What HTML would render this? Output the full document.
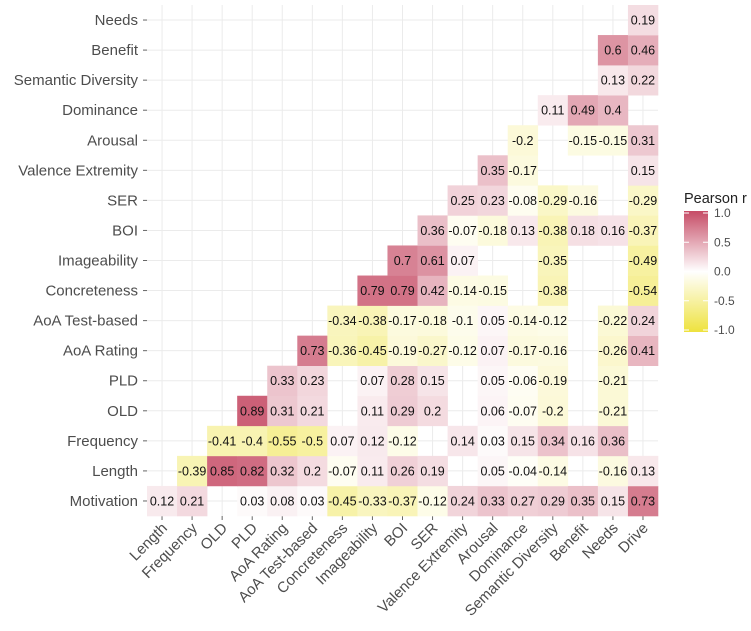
<!DOCTYPE html>
<html><head><meta charset="utf-8"><style>
html,body{margin:0;padding:0;background:#fff;}
svg{display:block;font-family:"Liberation Sans",sans-serif;}
</style></head><body>
<svg id="c" width="751" height="631"></svg>
<script>
const cols=["Length","Frequency","OLD","PLD","AoA Rating","AoA Test-based","Concreteness","Imageability","BOI","SER","Valence Extremity","Arousal","Dominance","Semantic Diversity","Benefit","Needs","Drive"];
const rows=["Motivation","Length","Frequency","OLD","PLD","AoA Rating","AoA Test-based","Concreteness","Imageability","BOI","SER","Valence Extremity","Arousal","Dominance","Semantic Diversity","Benefit","Needs"];
const rMotivation=[0.12,0.21,null,0.03,0.08,0.03,-0.45,-0.33,-0.37,-0.12,0.24,0.33,0.27,0.29,0.35,0.15,0.73];
const rLength=[-0.39,0.85,0.82,0.32,0.2,-0.07,0.11,0.26,0.19,null,0.05,-0.04,-0.14,null,-0.16,0.13];
const rFrequency=[-0.41,-0.4,-0.55,-0.5,0.07,0.12,-0.12,null,0.14,0.03,0.15,0.34,0.16,0.36,null];
const rOLD=[0.89,0.31,0.21,null,0.11,0.29,0.2,null,0.06,-0.07,-0.2,null,-0.21,null];
const rPLD=[0.33,0.23,null,0.07,0.28,0.15,null,0.05,-0.06,-0.19,null,-0.21,null];
const rAoARating=[0.73,-0.36,-0.45,-0.19,-0.27,-0.12,0.07,-0.17,-0.16,null,-0.26,0.41];
const rAoATest=[-0.34,-0.38,-0.17,-0.18,-0.1,0.05,-0.14,-0.12,null,-0.22,0.24];
const rConcreteness=[0.79,0.79,0.42,-0.14,-0.15,null,-0.38,null,null,-0.54];
const rImageability=[0.7,0.61,0.07,null,null,-0.35,null,null,-0.49];
const rBOI=[0.36,-0.07,-0.18,0.13,-0.38,0.18,0.16,-0.37];
const rSER=[0.25,0.23,-0.08,-0.29,-0.16,null,-0.29];
const rValence=[0.35,-0.17,null,null,null,0.15];
const rArousal=[-0.2,null,-0.15,-0.15,0.31];
const rDominance=[0.11,0.49,0.4,null];
const rSemDiv=[null,0.13,0.22];
const rBenefit=[0.6,0.46];
const rNeeds=[0.19];
const rowValues=[rMotivation,rLength,rFrequency,rOLD,rPLD,rAoARating,rAoATest,rConcreteness,rImageability,rBOI,rSER,rValence,rArousal,rDominance,rSemDiv,rBenefit,rNeeds];
const legendTicks=[1.0,0.5,0.0,-0.5,-1.0];

const NS="http://www.w3.org/2000/svg";
const svg=document.getElementById('c');
function mk(t,a,p){const e=document.createElementNS(NS,t);for(const k in a)e.setAttribute(k,a[k]);(p||svg).appendChild(e);return e;}
const X0=147,X1=658,Y0=5,Y1=516;
const cw=(X1-X0)/cols.length, ch=(Y1-Y0)/rows.length;
const xc=i=>X0+cw*(i+0.5);
const yc=j=>Y1-ch*(j+0.5);
function color(v){
  const pos=[198,76,102],neg=[238,226,62];
  const e=v>=0?pos:neg,t=Math.min(1,Math.abs(v));
  return `rgb(${e.map(c=>Math.round(255+(c-255)*t)).join(',')})`;
}
for(let i=0;i<cols.length;i++){
  const g=mk('line',{x1:xc(i),x2:xc(i),y1:Y0,y2:Y1,stroke:'#ebebeb','stroke-width':1});
  
  mk('line',{x1:xc(i),x2:xc(i),y1:Y1,y2:Y1+4,stroke:'#666','stroke-width':1});
}
for(let j=0;j<rows.length;j++){
  const g=mk('line',{x1:X0,x2:X1,y1:yc(j),y2:yc(j),stroke:'#ebebeb','stroke-width':1});
  
  mk('line',{x1:X0-4,x2:X0,y1:yc(j),y2:yc(j),stroke:'#666','stroke-width':1});
}
rowValues.forEach((vals,j)=>{
  const start=cols.length-vals.length;
  vals.forEach((v,k)=>{
    if(v===null)return;
    const i=start+k;
    const r=mk('rect',{x:xc(i)-cw/2,y:yc(j)-ch/2,width:cw+0.3,height:ch+0.3,fill:color(v)});
    
    
    const t=mk('text',{x:xc(i),y:yc(j)+4.5,'text-anchor':'middle','font-size':12.5,fill:'#111'});
    t.textContent=String(v);
    
    
  });
});
rows.forEach((r,j)=>{
  const t=mk('text',{x:138,y:yc(j)+5,'text-anchor':'end','font-size':15,fill:'#4d4d4d'});
  t.textContent=r;
  
  
});
cols.forEach((c,i)=>{
  const x=xc(i)+6,y=529;
  const t=mk('text',{x:x,y:y,'text-anchor':'end','font-size':15,fill:'#4d4d4d',transform:`rotate(-45 ${x} ${y})`});
  t.textContent=c;
  
  
});
const lt=mk('text',{x:684,y:203,'font-size':14.5,fill:'#222'});lt.textContent='Pearson r';

const defs=mk('defs',{});
const gr=mk('linearGradient',{id:'lg',x1:0,y1:0,x2:0,y2:1},defs);
[[0,1],[0.5,0],[1,-1]].forEach(([o,v])=>mk('stop',{offset:o,'stop-color':color(v)},gr));
const LY0=213,LY1=330;
const bar=mk('rect',{x:684,y:LY0-2,width:24,height:LY1-LY0+4,fill:'url(#lg)'});

legendTicks.forEach(v=>{
  const y=LY0+(1-v)/2*(LY1-LY0);
  mk('line',{x1:684,x2:689,y1:y,y2:y,stroke:'#fff'});
  mk('line',{x1:703,x2:708,y1:y,y2:y,stroke:'#fff'});
  const t=mk('text',{x:714,y:y+4,'font-size':12,fill:'#4d4d4d'});
  t.textContent=v.toFixed(1);
  
  
});
</script>
</body></html>
